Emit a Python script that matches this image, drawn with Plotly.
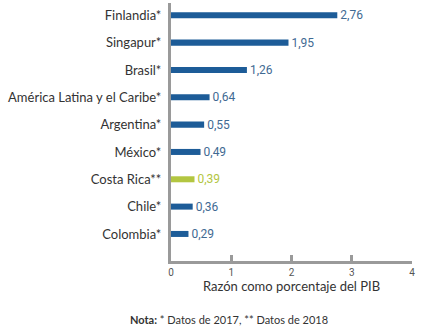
import plotly.graph_objects as go

categories = ["Finlandia*", "Singapur*", "Brasil*", "América Latina y el Caribe*",
              "Argentina*", "México*", "Costa Rica**", "Chile*", "Colombia*"]
values = [2.76, 1.95, 1.26, 0.64, 0.55, 0.49, 0.39, 0.36, 0.29]
highlight = "Costa Rica**"
x_ticks = [0, 1, 2, 3, 4]

BLUE = "#1d5c98"
GREEN = "#b3c641"
LABEL_BLUE = "#3f6a93"
AXIS = "#9a9a9a"

bar_colors = [GREEN if c == highlight else BLUE for c in categories]
text_colors = [GREEN if c == highlight else LABEL_BLUE for c in categories]
labels = [f"{v:.2f}".replace(".", ",") for v in values]

fig = go.Figure(go.Bar(
    x=values, y=categories, orientation="h",
    marker=dict(color=bar_colors, line=dict(width=0)),
    width=0.22,
    text=labels, textposition="outside", constraintext="none",
    textfont=dict(family="Roboto", size=12, color=text_colors),
    cliponaxis=False,
))

fig.update_layout(
    width=422, height=328,
    margin=dict(l=171, r=10, t=3, b=67),
    paper_bgcolor="white", plot_bgcolor="white",
    showlegend=False,
    xaxis=dict(range=[0, 4], tickvals=x_ticks, ticktext=[str(t) for t in x_ticks],
               showgrid=False, zeroline=False, showline=True, linecolor=AXIS, linewidth=3,
               ticks="inside", ticklen=6, tickwidth=3, tickcolor=AXIS,
               tickfont=dict(family="Roboto", size=10, color="#555555"),
               title=dict(text="Razón como porcentaje del PIB", standoff=4,
                          font=dict(family="Lato", size=13, color="#333333"))),
    yaxis=dict(type="category", range=[8.99, -0.45],
               showgrid=False, zeroline=False, showline=True, linecolor=AXIS, linewidth=3,
               ticks="", ticklabelstandoff=4,
               tickfont=dict(family="Lato", size=13, color="#333333")),
    annotations=[dict(
        text="<b>Nota:</b> * Datos de 2017, ** Datos de 2018",
        xref="paper", yref="paper", x=0.24, y=-0.228, xanchor="center", yanchor="middle",
        showarrow=False, font=dict(family="Lato", size=11, color="#333333"))],
)

fig.write_html("out.html")
